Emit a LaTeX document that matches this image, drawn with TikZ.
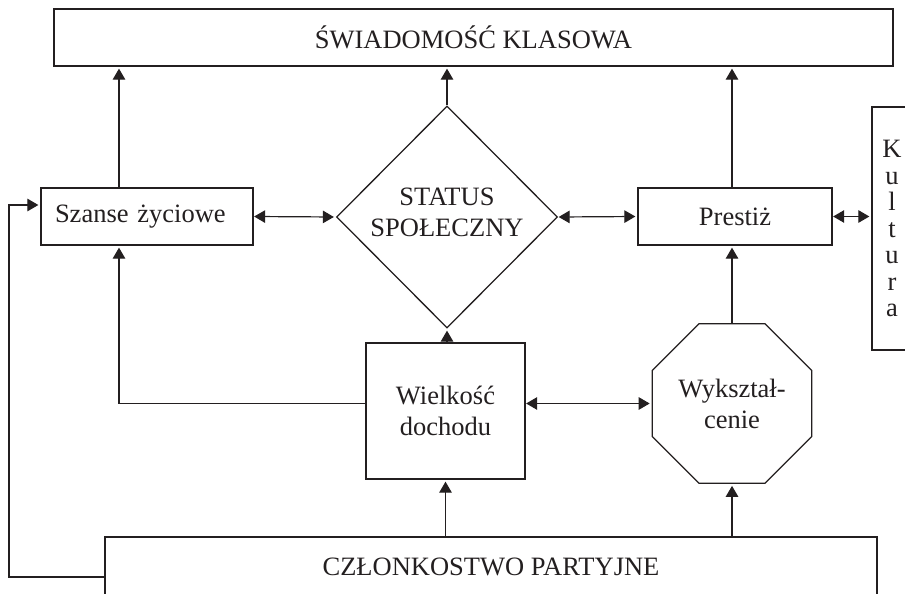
\documentclass[tikz,border=0pt]{standalone}
\usepackage{fontspec}
\setmainfont{Liberation Serif}
\usetikzlibrary{arrows.meta,shapes.geometric}
\definecolor{ink}{HTML}{231F20}
\tikzset{
  box/.style={draw=ink, line width=1.3pt, inner sep=0pt, text=ink},
  tip/.tip={Triangle[length=11pt,width=12.5pt]},
  arr/.style={-tip, draw=ink, line width=1.2pt, shorten >=2pt},
  darr/.style={tip-tip, draw=ink, line width=1.2pt, shorten >=2pt, shorten <=0.5pt},
}
\begin{document}
\begin{tikzpicture}[x=1pt,y=-1pt,font=\fontsize{26.5}{31}\selectfont]
\useasboundingbox (0,0) rectangle (905,594);
\clip (0,0) rectangle (905,594);
\node[box, minimum width=839, minimum height=57] (swiad) at (473.5,37.5) {ŚWIADOMOŚĆ KLASOWA};
\node[box, minimum width=212, minimum height=57, text width=184, align=left, inner xsep=14pt] (szanse) at (147,216.5) {Szanse życiowe};
\node[box, diamond, minimum width=221, minimum height=222] (status) at (447,217) {};
\node[align=center, inner sep=0pt, text=ink] (statustxt) at (447,212.5) {STATUS\\SPOŁECZNY};
\node[box, minimum width=194, minimum height=57] (prestiz) at (735,216.5) {Prestiż};
\node[box, minimum width=40, minimum height=243, align=center, font=\fontsize{26.5}{26.5}\selectfont] (kultura) at (892,228.5) {K\\u\\l\\t\\u\\r\\a};
\node[box, minimum width=159, minimum height=136, align=center] (wiel) at (445.5,411) {Wielkość\\dochodu};
\node[box, regular polygon, regular polygon sides=8, minimum size=172.5, align=center] (oct) at (732,403.5) {Wykształ-\\cenie};
\node[box, minimum width=772, minimum height=59] (czlon) at (491,566.5) {CZŁONKOSTWO PARTYJNE};
\coordinate (xl) at (119,0);
\coordinate (xp) at (732,0);
\coordinate (lp) at (9,0);
\coordinate (loopy) at (0,577);
\coordinate (szy) at (0,205);
\draw[arr] (szanse.north -| xl) -- (swiad.south -| xl);
\draw[arr] (status.north) -- (swiad.south -| status.north);
\draw[arr] (prestiz.north -| xp) -- (swiad.south -| xp);
\draw[darr] (szanse.east) -- (status.west);
\draw[darr] (status.east) -- (prestiz.west);
\draw[darr] (prestiz.east) -- (kultura.west |- prestiz.east);
\draw[arr] (oct.north) -- (prestiz.south -| oct.north);
\draw[arr] (wiel.north -| status.south) -- (status.south);
\draw[darr] (wiel.east |- oct.west) -- (oct.west);
\draw[arr] (wiel.west |- oct.west) -| (szanse.south -| xl);
\draw[arr] (czlon.north -| wiel.south) -- (wiel.south);
\draw[arr] (czlon.north -| oct.south) -- (oct.south);
\draw[arr] (czlon.west |- loopy) -| (lp |- szy) -- (szanse.west |- szy);
\end{tikzpicture}
\end{document}
